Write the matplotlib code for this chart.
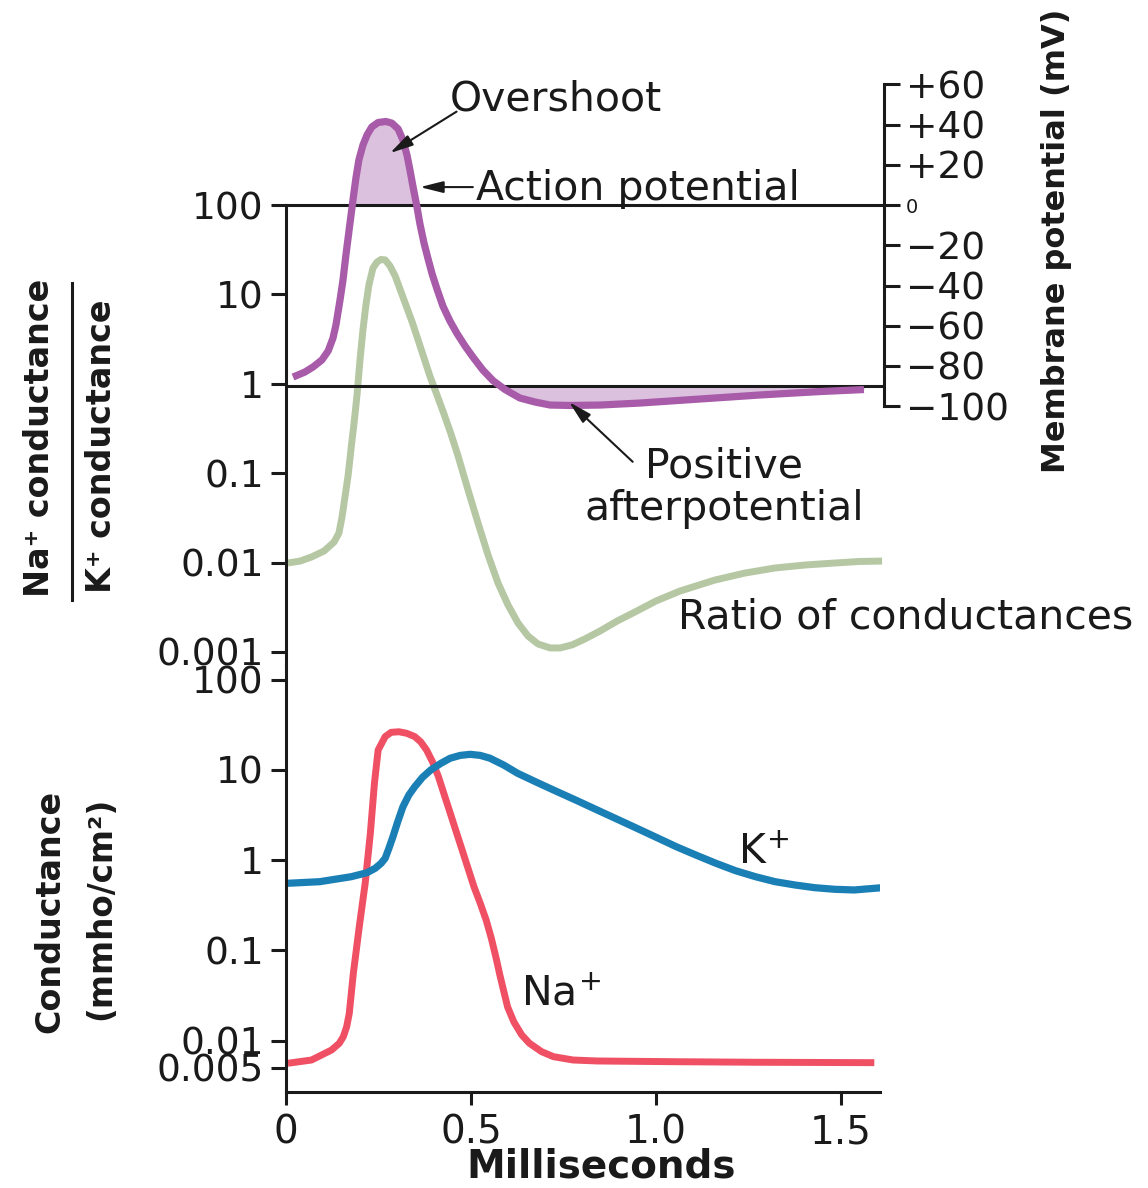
import matplotlib.pyplot as plt
from matplotlib.lines import Line2D
from matplotlib.ticker import NullLocator
import numpy as np

plt.rcParams['font.family'] = 'DejaVu Sans'

# membrane potential (mV) against time (ms)
ap_t = [0.019, 0.051, 0.073, 0.097, 0.114, 0.127, 0.135, 0.146, 0.154, 0.162,
        0.173, 0.181, 0.189, 0.197, 0.208, 0.219, 0.232, 0.249, 0.270, 0.286,
        0.303, 0.316, 0.327, 0.335, 0.343, 0.354, 0.362, 0.373, 0.384, 0.395,
        0.408, 0.424, 0.443, 0.462, 0.484, 0.505, 0.532, 0.559, 0.592, 0.632,
        0.673, 0.714, 0.768, 0.849, 0.957, 1.119, 1.281, 1.443, 1.562]
ap_mv = [-85.5, -83.0, -80.5, -77.0, -72.5, -66.1, -59.6, -47.2, -37.3, -24.8,
         -8.9, 2.5, 13.4, 22.4, 29.8, 34.8, 38.8, 41.0, 41.5, 40.7,
         37.8, 32.3, 24.8, 17.4, 9.4, -1.0, -9.4, -18.9, -26.8, -34.3,
         -41.7, -50.2, -57.6, -63.8, -70.1, -75.5, -82.0, -87.2, -91.7, -95.9,
         -97.9, -99.4, -99.6, -99.4, -98.4, -96.4, -94.4, -92.7, -91.7]

# Na+/K+ conductance ratio
ratio_t = [0.005, 0.038, 0.070, 0.103, 0.130, 0.143, 0.151, 0.159, 0.168, 0.176,
           0.184, 0.192, 0.200, 0.208, 0.216, 0.224, 0.235, 0.246, 0.257, 0.268,
           0.281, 0.295, 0.308, 0.324, 0.341, 0.357, 0.373, 0.389, 0.408, 0.427,
           0.446, 0.465, 0.492, 0.519, 0.546, 0.573, 0.600, 0.627, 0.654, 0.681,
           0.714, 0.741, 0.773, 0.808, 0.849, 0.895, 0.943, 1.000, 1.065, 1.159,
           1.241, 1.322, 1.403, 1.484, 1.551, 1.611]
ratio = [0.0099, 0.0104, 0.0116, 0.0135, 0.0170, 0.0214, 0.0316, 0.0528, 0.0955, 0.191,
         0.365, 0.750, 1.85, 4.00, 7.61, 12.7, 19.7, 23.0, 24.6, 24.3,
         20.8, 16.1, 11.5, 7.61, 4.91, 3.09, 1.94, 1.22, 0.750, 0.459,
         0.274, 0.156, 0.0649, 0.0277, 0.0122, 0.00591, 0.00336, 0.00211, 0.00151, 0.00123,
         0.00111, 0.00111, 0.00120, 0.00140, 0.00172, 0.00222, 0.00280, 0.00372, 0.00481, 0.00638,
         0.00765, 0.00871, 0.00940, 0.00990, 0.0103, 0.0104]

# conductances (mmho/cm2)
na_t = [0.005, 0.069, 0.123, 0.144, 0.155, 0.164, 0.171, 0.182, 0.198, 0.214,
        0.228, 0.239, 0.249, 0.268, 0.284, 0.305, 0.326, 0.348, 0.364, 0.380,
        0.396, 0.412, 0.428, 0.444, 0.460, 0.476, 0.492, 0.508, 0.525, 0.541,
        0.555, 0.567, 0.578, 0.589, 0.599, 0.616, 0.637, 0.658, 0.691, 0.723,
        0.776, 0.841, 1.055, 1.269, 1.590]
na_g = [0.00562, 0.00611, 0.00788, 0.00936, 0.0111, 0.0143, 0.0201, 0.0558, 0.183, 0.555,
        1.99, 7.11, 16.6, 23.4, 26.1, 26.5, 25.5, 23.4, 20.5, 16.6,
        12.3, 8.42, 5.27, 3.31, 2.07, 1.30, 0.813, 0.508, 0.333, 0.217,
        0.136, 0.0853, 0.0535, 0.0347, 0.0236, 0.0161, 0.0116, 0.00936, 0.00755, 0.00665,
        0.00611, 0.00596, 0.00585, 0.00577, 0.00571]
k_t = [0.005, 0.091, 0.176, 0.219, 0.241, 0.257, 0.268, 0.278, 0.289, 0.302,
       0.316, 0.332, 0.348, 0.369, 0.391, 0.418, 0.444, 0.471, 0.498, 0.525,
       0.551, 0.589, 0.626, 0.680, 0.733, 0.787, 0.841, 0.894, 0.948, 1.001,
       1.055, 1.108, 1.162, 1.215, 1.269, 1.322, 1.376, 1.429, 1.483, 1.536,
       1.611]
k_g = [0.555, 0.578, 0.656, 0.727, 0.813, 0.924, 1.05, 1.35, 1.82, 2.67,
       3.91, 5.27, 6.52, 8.29, 9.98, 11.8, 13.5, 14.5, 14.9, 14.5,
       13.5, 11.3, 9.18, 7.22, 5.74, 4.56, 3.60, 2.86, 2.26, 1.79,
       1.41, 1.14, 0.924, 0.765, 0.656, 0.578, 0.531, 0.496, 0.476, 0.468,
       0.496]

ratio_ticks = [100, 10, 1, 0.1, 0.01, 0.001]
ratio_labels = ['100', '10', '1', '0.1', '0.01', '0.001']
mv_ticks = [60, 40, 20, 0, -20, -40, -60, -80, -100]
mv_labels = ['+60', '+40', '+20', '0', '\u221220', '\u221240', '\u221260', '\u221280', '\u2212100']
g_ticks = [100, 10, 1, 0.1, 0.01, 0.005]
g_labels = ['100', '10', '1', '0.1', '0.01', '0.005']
time_ticks = [0, 0.5, 1.0, 1.5]
time_labels = ['0', '0.5', '1.0', '1.5']

purple = '#a85ba9'
purple_fill = '#dcc1de'
green = '#b5c8a3'
red = '#ef5064'
blue = '#1a7fb5'
ink = '#1a1a1a'

W, H = 1148, 1188
fig = plt.figure(figsize=(W / 100, H / 100), dpi=100)


def box(l, t, r, b):
    return [l / W, 1 - b / H, (r - l) / W, (b - t) / H]


# top panel: ratio (log, left) and membrane potential (linear, right)
ax = fig.add_axes(box(286, 60, 884, 666))
ax.set_yscale('log')
ax.set_xlim(0, 598 / 370)
ax.set_ylim(10 ** (2 - (666 - 205) / 89.4), 10 ** (2 + (205 - 60) / 89.4))
for s in ['top', 'right', 'bottom']:
    ax.spines[s].set_visible(False)
ax.spines['left'].set_linewidth(2.2)
ax.spines['left'].set_color(ink)
ax.spines['left'].set_bounds(ax.get_ylim()[0], 100)
ax.set_xticks([])
ax.set_yticks(ratio_ticks, ratio_labels)
ax.yaxis.set_minor_locator(NullLocator())
ax.tick_params(axis='y', length=11, width=2.2, labelsize=27, pad=5, color=ink, labelcolor=ink)
ax.plot(ratio_t, ratio, color=green, lw=5, solid_joinstyle='round', solid_capstyle='butt')

ax2 = ax.twinx()
ax2.set_ylim(-(666 - 205) / 2.0125, (205 - 60) / 2.0125)
for s in ['top', 'left', 'bottom']:
    ax2.spines[s].set_visible(False)
ax2.spines['right'].set_linewidth(2.2)
ax2.spines['right'].set_color(ink)
ax2.spines['right'].set_bounds(-100, 60)
ax2.set_yticks(mv_ticks, mv_labels)
ax2.tick_params(axis='y', length=11.5, width=2.2, labelsize=27, pad=4, color=ink, labelcolor=ink)
for lab in ax2.get_yticklabels():
    if lab.get_text() == '0':
        lab.set_fontsize(14)

ap = np.array(ap_mv)
ax2.fill_between(ap_t, ap, 0, where=ap > 0, interpolate=True, color=purple_fill, lw=0, zorder=1)
ax2.fill_between(ap_t, ap, -90, where=ap < -90, interpolate=True, color=purple_fill, lw=0, zorder=1)
ax2.axhline(0, color=ink, lw=2.2, zorder=2)
ax2.axhline(-90, color=ink, lw=2.2, zorder=2)
ax2.plot(ap_t, ap_mv, color=purple, lw=5.2, solid_joinstyle='round', solid_capstyle='butt', zorder=3)

arrow = dict(arrowstyle='-|>,head_length=1.4,head_width=0.35', color=ink,
             lw=1.5, shrinkA=0, shrinkB=0, mutation_scale=10)
ax2.annotate('', xy=(0.281, 25.8), xytext=(0.461, 46.4), arrowprops=arrow, zorder=5)
ax2.annotate('', xy=(0.362, 8.9), xytext=(0.505, 8.9), arrowprops=arrow, zorder=5)
ax2.annotate('', xy=(0.765, -97.9), xytext=(0.937, -127.6), arrowprops=arrow, zorder=5)

note = dict(fontsize=29.5, color=ink)
ax2.text(0.443, 47.2, 'Overshoot', va='baseline', **note)
ax2.text(0.514, 2.5, 'Action potential', va='baseline', **note)
ax2.text(1.184, -135.2, 'Positive', ha='center', va='baseline', **note)
ax2.text(1.184, -156.5, 'afterpotential', ha='center', va='baseline', **note)
ax2.text(1.059, -210.2, 'Ratio of conductances', va='baseline', **note)

# bottom panel: conductances
axb = fig.add_axes(box(286, 666, 880, 1092))
axb.set_yscale('log')
axb.set_xlim(0, 594 / 370)
axb.set_ylim(10 ** ((860.2 - 1092) / 90.25), 10 ** ((860.2 - 666) / 90.25))
for s in ['top', 'right']:
    axb.spines[s].set_visible(False)
for s in ['left', 'bottom']:
    axb.spines[s].set_linewidth(2.2)
    axb.spines[s].set_color(ink)
axb.set_yticks(g_ticks, g_labels)
axb.yaxis.set_minor_locator(NullLocator())
axb.set_xticks(time_ticks, time_labels)
axb.tick_params(axis='y', length=11, width=2.2, labelsize=27, pad=5, color=ink, labelcolor=ink)
axb.tick_params(axis='x', length=9.5, width=2.2, labelsize=28, pad=6, color=ink, labelcolor=ink)
axb.plot(na_t, na_g, color=red, lw=5, solid_joinstyle='round', solid_capstyle='butt')
axb.plot(k_t, k_g, color=blue, lw=5.2, solid_joinstyle='round', solid_capstyle='butt')
axb.text(1.2205, 0.913, r'K$^{\!+}$', va='baseline', **note)
axb.text(0.635, 0.02434, r'Na$^{\!+}$', va='baseline', **note)

fig.text(601 / W, 1 - 1178 / H, 'Milliseconds', fontsize=28, fontweight='bold',
         ha='center', va='baseline', color=ink)

# axis titles
title = dict(rotation=90, fontweight='bold', ha='center', va='center', color=ink)
fig.text(40 / W, 1 - 438 / H, 'Na\u207a conductance', fontsize=24, **title)
fig.text(102 / W, 1 - 446 / H, 'K\u207a conductance', fontsize=24, **title)
fig.add_artist(Line2D([72 / W, 72 / W], [1 - 283 / H, 1 - 600 / H], color=ink, lw=2.2))
fig.text(50 / W, 1 - 911 / H, 'Conductance', fontsize=24, **title)
fig.text(101 / W, 1 - 908 / H, '(mmho/cm\u00b2)', fontsize=23.5, **title)
fig.text(1056 / W, 1 - 241 / H, 'Membrane potential (mV)', fontsize=23, **title)

fig.savefig('out.png', dpi=100)
